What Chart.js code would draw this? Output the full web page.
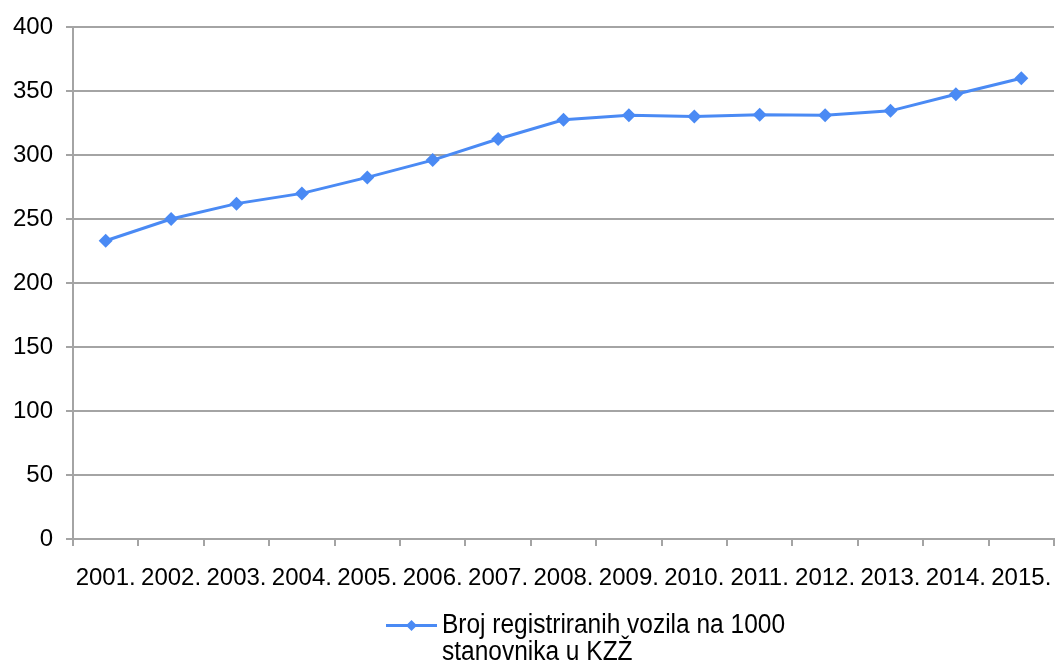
<!DOCTYPE html>
<html>
<head>
<meta charset="utf-8">
<script src="https://cdn.jsdelivr.net/npm/chart.js@4.4.0/dist/chart.umd.min.js"></script>
<style>
html,body{margin:0;padding:0;background:#fff;overflow:hidden;}
#wrap{width:1055px;height:664px;position:relative;overflow:hidden;}
</style>
</head>
<body>
<div id="wrap"><canvas id="c" width="1061" height="664"></canvas></div>
<script>
const categories = ["2001.","2002.","2003.","2004.","2005.","2006.","2007.","2008.","2009.","2010.","2011.","2012.","2013.","2014.","2015."];
const vehiclesPer1000 = [233, 250, 262, 270, 282.5, 296, 312.5, 327.5, 331, 330, 331.5, 331, 334.5, 347.5, 360];
const seriesLabel = ["Broj registriranih vozila na 1000", "stanovnika u KZŽ"];
const yTicks = [0, 50, 100, 150, 200, 250, 300, 350, 400];

const FONT = "'Liberation Sans', Arial, sans-serif";
const LINE_COLOR = "#4a8af4";
const GRID = "#a4a4a4";

const legendPlugin = {
  id: 'customLegend',
  afterDraw(chart) {
    const ctx = chart.ctx;
    ctx.save();
    const y0 = 625.5;
    ctx.strokeStyle = LINE_COLOR;
    ctx.lineWidth = 3;
    ctx.beginPath();
    ctx.moveTo(386, y0);
    ctx.lineTo(437, y0);
    ctx.stroke();
    ctx.fillStyle = LINE_COLOR;
    ctx.beginPath();
    const cx = 411.5, r = 5.5;
    ctx.moveTo(cx, y0 - r); ctx.lineTo(cx + r, y0); ctx.lineTo(cx, y0 + r); ctx.lineTo(cx - r, y0);
    ctx.closePath(); ctx.fill();
    ctx.fillStyle = "#000";
    ctx.font = "27px " + FONT;
    ctx.textBaseline = "middle";
    ctx.textAlign = "left";
    const w = ctx.measureText(seriesLabel[0]).width;
    const sx = 343 / w;
    ctx.translate(442, 0);
    ctx.scale(sx, 1);
    seriesLabel.forEach((t, i) => ctx.fillText(t, 0, y0 + i * 27.5));
    ctx.restore();
  }
};

new Chart(document.getElementById('c'), {
  type: 'line',
  data: {
    labels: categories,
    datasets: [{
      label: seriesLabel.join(' '),
      data: vehiclesPer1000,
      borderColor: LINE_COLOR,
      backgroundColor: LINE_COLOR,
      borderWidth: 3,
      pointStyle: 'rectRot',
      pointRadius: 7,
      pointHoverRadius: 7,
      pointBorderWidth: 0,
      tension: 0,
      fill: false
    }]
  },
  options: {
    responsive: false,
    animation: false,
    devicePixelRatio: 1,
    layout: { padding: { top: 27, right: 0, left: 0, bottom: 62 } },
    plugins: { legend: { display: false }, tooltip: { enabled: false } },
    scales: {
      x: {
        type: 'category',
        offset: true,
        grid: { display: true, drawOnChartArea: false, drawTicks: true, tickLength: 7, color: GRID, lineWidth: 2, offset: true },
        border: { display: true, color: GRID, width: 2 },
        ticks: { color: '#000', font: { family: FONT, size: 24 }, padding: 18, maxRotation: 0, autoSkip: false },
        afterFit(scale) { scale.height = 63; scale.paddingLeft = 0; scale.paddingRight = 0; }
      },
      y: {
        min: 0, max: 400,
        afterBuildTicks(scale) { scale.ticks = yTicks.map(v => ({ value: v })); },
        grid: { color: GRID, lineWidth: 2, tickLength: 7, drawTicks: true },
        border: { display: true, color: GRID, width: 2 },
        ticks: { color: '#000', font: { family: FONT, size: 24 }, padding: 13 },
        afterFit(scale) { scale.width = 73; scale.paddingTop = 0; scale.paddingBottom = 0; }
      }
    }
  },
  plugins: [legendPlugin]
});
</script>
</body>
</html>
